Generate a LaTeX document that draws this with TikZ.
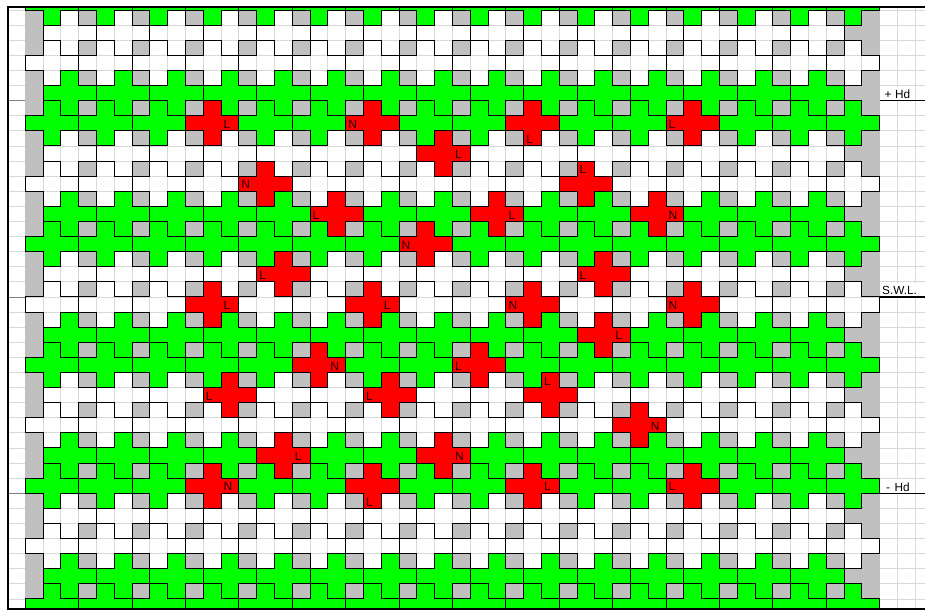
\documentclass[tikz,border=0pt]{standalone}
\usepackage{fontspec}
\setmainfont{Liberation Sans}
\definecolor{cgreen}{HTML}{00FF00}
\definecolor{cred}{HTML}{FF0000}
\definecolor{cgray}{HTML}{C0C0C0}
\definecolor{cgrid}{HTML}{D9D9D9}
\definecolor{ctag}{HTML}{200000}
\definecolor{cmark}{HTML}{808080}
\tikzset{
  plus/.pic={\path[pic actions] (0,-1) -- (1,-1) -- (1,0) -- (2,0) -- (2,1) -- (1,1) -- (1,2) -- (0,2) -- (0,1) -- (-1,1) -- (-1,0) -- (0,0) -- cycle;},
  unit/.style={draw=black, line width=0.9pt, line join=miter},
  tag/.style={anchor=base west, inner sep=0pt, font=\fontsize{12}{13}\selectfont, text=ctag},
  levellabel/.style={anchor=base west, inner sep=0pt, font=\fontsize{11.8}{13}\selectfont, text=black},
  gridline/.style={draw=cgrid, line width=0.8pt},
  levelline/.style={draw=black, line width=1.1pt},
  levelstub/.style={draw=cmark, line width=1pt},
  frameline/.style={draw=black, line width=2pt, line cap=rect},
}
\begin{document}
\begin{tikzpicture}[x=1pt,y=-1pt]
\useasboundingbox (0,0) rectangle (925,610);
\fill[white] (0,0) rectangle (925,610);
\begin{scope}
\clip (8,7) rectangle (925,609);
\begin{scope}[shift={(7.4pt,5.1pt)}, x=17.8pt, y=-15.1pt]
  % spreadsheet grid
  \foreach \c in {0,...,51} \draw[gridline] (\c,0) -- (\c,41);
  \foreach \r in {1,...,40} \draw[gridline] (0,\r) -- (52,\r);
  % gray gaps
  \foreach \r in {1,3,...,39} {
    \foreach \c in {1,4,...,46} \fill[cgray] (\c,\r) rectangle ++(1,1);
    \fill[cgray] (48,\r) rectangle ++(1,1);
  }
  \foreach \r in {2,6,...,38} {
    \fill[cgray] (1,\r) rectangle ++(1,1);
    \fill[cgray] (47,\r) rectangle ++(2,1);
  }
  % crosses, rows with centres in columns 2,5,...,47
  \foreach \r in {0,8,16,24,32,40} \foreach \c in {2,5,...,47} \pic[fill=cgreen, unit] at (\c,\r) {plus};
  \foreach \r in {4,12,20,28,36} \foreach \c in {2,5,...,47} \pic[unit] at (\c,\r) {plus};
  % crosses, rows with centres in columns 3,6,...,45
  \foreach \r in {6,14,22,30,38} \foreach \c in {3,6,...,45} \pic[fill=cgreen, unit] at (\c,\r) {plus};
  \foreach \r in {2,10,18,26,34} \foreach \c in {3,6,...,45} \pic[unit] at (\c,\r) {plus};
  % red units with their tags
  \foreach \r/\c/\lc/\lr/\t in {
     8/11/12/8/L, 8/20/19/8/N, 8/29/29/9/L, 8/38/37/8/L,
     10/24/25/10/L,
     12/14/13/12/N, 12/32/32/11/L,
     14/18/17/14/L, 14/27/28/14/L, 14/36/37/14/N,
     16/23/22/16/N,
     18/15/14/18/L, 18/33/32/18/L,
     20/11/12/20/L, 20/20/21/20/L, 20/29/28/20/N, 20/38/37/20/N,
     22/33/34/22/L,
     24/17/18/24/N, 24/26/25/24/L,
     26/12/11/26/L, 26/21/20/26/L, 26/30/30/25/L,
     28/35/36/28/N,
     30/15/16/30/L, 30/24/25/30/N,
     32/11/12/32/N, 32/20/20/33/L, 32/29/30/32/L, 32/38/37/32/L} {
    \pic[fill=cred, unit] at (\c,\r) {plus};
    \node[tag] (tag-\r-\c) at (\lc+0.14,\lr+0.85) {\t};
  }
\end{scope}
\end{scope}
% level marks on the right
\fill[white] (881,86.5) rectangle (914,100);
\fill[white] (881,282.8) rectangle (920,296.3);
\fill[white] (881,479) rectangle (914,492.5);
\node[levellabel] (hdplus) at (884.5,98.6) {+\hspace{3.5pt}Hd};
\node[levellabel] (swl) at (882,294.9) {S.W.L.};
\node[levellabel] (hdminus) at (886,491.2) {-\hspace{4.5pt}Hd};
\draw[levelline] (880,100.6) -- (925,100.6);
\draw[levelline] (880,297) -- (925,297);
\draw[levelline] (880,493.3) -- (925,493.3);
\draw[levelstub] (8,100.6) -- (25,100.6);
\draw[levelstub] (8,297) -- (25,297);
\draw[levelstub] (8,493.3) -- (25,493.3);
% frame
\draw[frameline] (925,7) -- (8,7) -- (8,609) -- (925,609);
\end{tikzpicture}
\end{document}
